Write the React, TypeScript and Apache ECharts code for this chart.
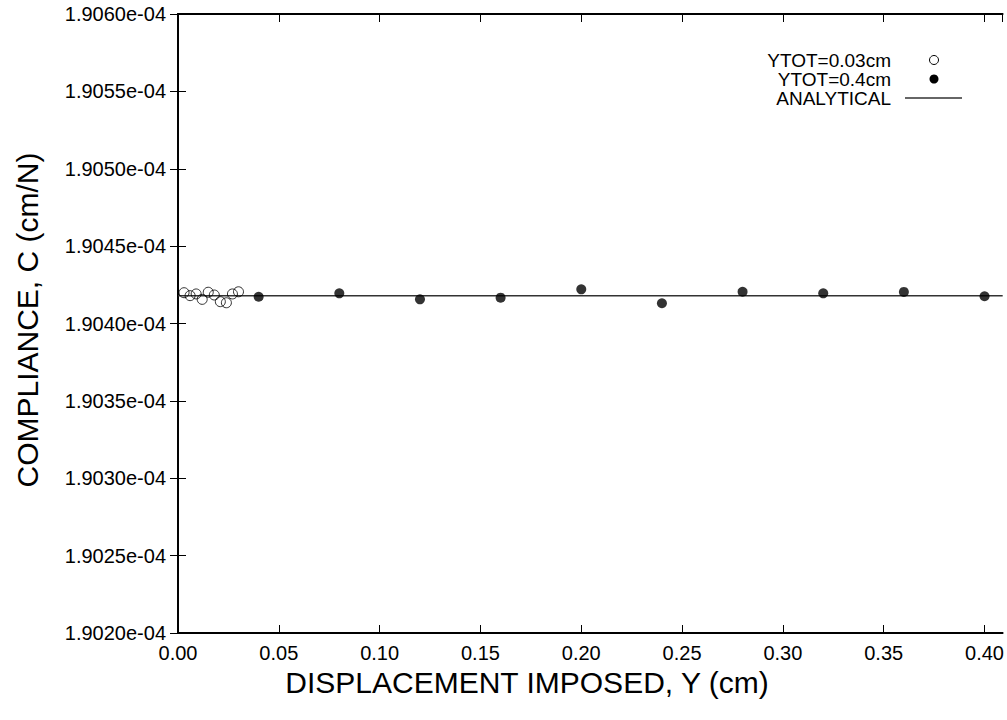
import React, { useEffect, useRef } from "react";
import * as echarts from "echarts";

const seriesNames = ["YTOT=0.03cm", "YTOT=0.4cm", "ANALYTICAL"];

const smallX = [0.003, 0.006, 0.009, 0.012, 0.015, 0.018, 0.021, 0.024, 0.027, 0.03];
const smallY = [
  1.904199e-4, 1.90418e-4, 1.904191e-4, 1.904156e-4, 1.904202e-4,
  1.904184e-4, 1.904141e-4, 1.904134e-4, 1.904191e-4, 1.904205e-4,
];

const largeX = [0.04, 0.08, 0.12, 0.16, 0.2, 0.24, 0.28, 0.32, 0.36, 0.4];
const largeY = [
  1.904173e-4, 1.904195e-4, 1.904156e-4, 1.904167e-4, 1.904221e-4,
  1.904131e-4, 1.904205e-4, 1.904195e-4, 1.904204e-4, 1.904176e-4,
];

const analyticalX = [0, 0.409];
const analyticalValue = 1.90418e-4;

const xMin = 0;
const xMax = 0.409;
const xInterval = 0.05;
const yMin = 1.902e-4;
const yMax = 1.906e-4;
const yInterval = 0.0005e-4;

const xTitle = "DISPLACEMENT IMPOSED, Y (cm)";
const yTitle = "COMPLIANCE, C (cm/N)";

const FONT = "'Liberation Sans', Arial, Helvetica, sans-serif";

export default function App() {
  const ref = useRef<HTMLDivElement>(null);
  useEffect(() => {
    if (!ref.current) return;
    document.body.style.overflow = "hidden";
    const chart = echarts.init(ref.current, null, { renderer: "svg" });
    const yFmt = (v: number) => (v * 1e4).toFixed(4) + "e-04";
    const xFmt = (v: number) => {
      const k = Math.round(v / xInterval);
      if (Math.abs(k * xInterval - v) > 1e-9) return "";
      return v.toFixed(2);
    };
    const axisLine = { show: true, lineStyle: { color: "#000", width: 1.8 } };
    const tick = { show: true, inside: true, length: 8, lineStyle: { color: "#000", width: 1 } };
    const legendTextX = 891;
    const legendRows = [60, 79, 98];
    chart.setOption({
      animation: false,
      backgroundColor: "#fff",
      grid: { left: 178, right: 3, top: 14, bottom: 87, containLabel: false },
      xAxis: [
        {
          type: "value",
          position: "bottom",
          min: xMin,
          max: xMax,
          interval: xInterval,
          axisLine,
          axisTick: tick,
          splitLine: { show: false },
          axisLabel: {
            formatter: xFmt,
            showMaxLabel: false,
            fontFamily: FONT,
            fontSize: 20,
            color: "#000",
            margin: 10,
          },
        },
        {
          type: "value",
          position: "top",
          min: xMin,
          max: xMax,
          interval: xInterval,
          axisLine,
          axisTick: tick,
          splitLine: { show: false },
          axisLabel: { show: false },
        },
      ],
      yAxis: [
        {
          type: "value",
          position: "left",
          min: yMin,
          max: yMax,
          interval: yInterval,
          axisLine,
          axisTick: tick,
          splitLine: { show: false },
          axisLabel: {
            formatter: yFmt,
            fontFamily: FONT,
            fontSize: 20,
            color: "#000",
            margin: 12,
          },
        },
        {
          type: "value",
          position: "right",
          min: yMin,
          max: yMax,
          interval: yInterval,
          axisLine,
          axisTick: tick,
          splitLine: { show: false },
          axisLabel: { show: false },
        },
      ],
      series: [
        {
          name: seriesNames[2],
          type: "line",
          data: analyticalX.map((x) => [x, analyticalValue]),
          showSymbol: false,
          lineStyle: { color: "#333", width: 1.5 },
          z: 1,
        },
        {
          name: seriesNames[0],
          type: "scatter",
          data: smallX.map((x, i) => [x, smallY[i]]),
          symbol: "circle",
          symbolSize: 10,
          itemStyle: { color: "transparent", borderColor: "#000", borderWidth: 1 },
          z: 3,
        },
        {
          name: seriesNames[1],
          type: "scatter",
          data: largeX.map((x, i) => [x, largeY[i]]),
          symbol: "circle",
          symbolSize: 10,
          itemStyle: { color: "#000" },
          z: 3,
        },
      ],
      graphic: [
        {
          type: "text",
          x: 527,
          y: 682,
          style: {
            text: xTitle,
            font: `30px ${FONT}`,
            fill: "#000",
            align: "center",
            verticalAlign: "middle",
          },
        },
        {
          type: "text",
          x: 27,
          y: 320,
          rotation: Math.PI / 2,
          style: {
            text: yTitle,
            font: `30px ${FONT}`,
            fill: "#000",
            align: "center",
            verticalAlign: "middle",
          },
        },
        ...seriesNames.map((n, i) => ({
          type: "text",
          x: legendTextX,
          y: legendRows[i],
          style: {
            text: n,
            font: `19px ${FONT}`,
            lineHeight: 17,
            fill: "#000",
            align: "right",
            verticalAlign: "middle",
          },
        })),
        {
          type: "circle",
          shape: { cx: 934, cy: legendRows[0], r: 4.5 },
          style: { fill: "none", stroke: "#000", lineWidth: 1 },
        },
        {
          type: "circle",
          shape: { cx: 934, cy: legendRows[1], r: 4.5 },
          style: { fill: "#000" },
        },
        {
          type: "line",
          shape: { x1: 905, y1: legendRows[2], x2: 962, y2: legendRows[2] },
          style: { stroke: "#333", lineWidth: 1.5 },
        },
      ],
    });
    return () => chart.dispose();
  }, []);
  return (
    <div
      ref={ref}
      style={{ position: "fixed", left: 0, top: 0, width: 1007, height: 720 }}
    />
  );
}
